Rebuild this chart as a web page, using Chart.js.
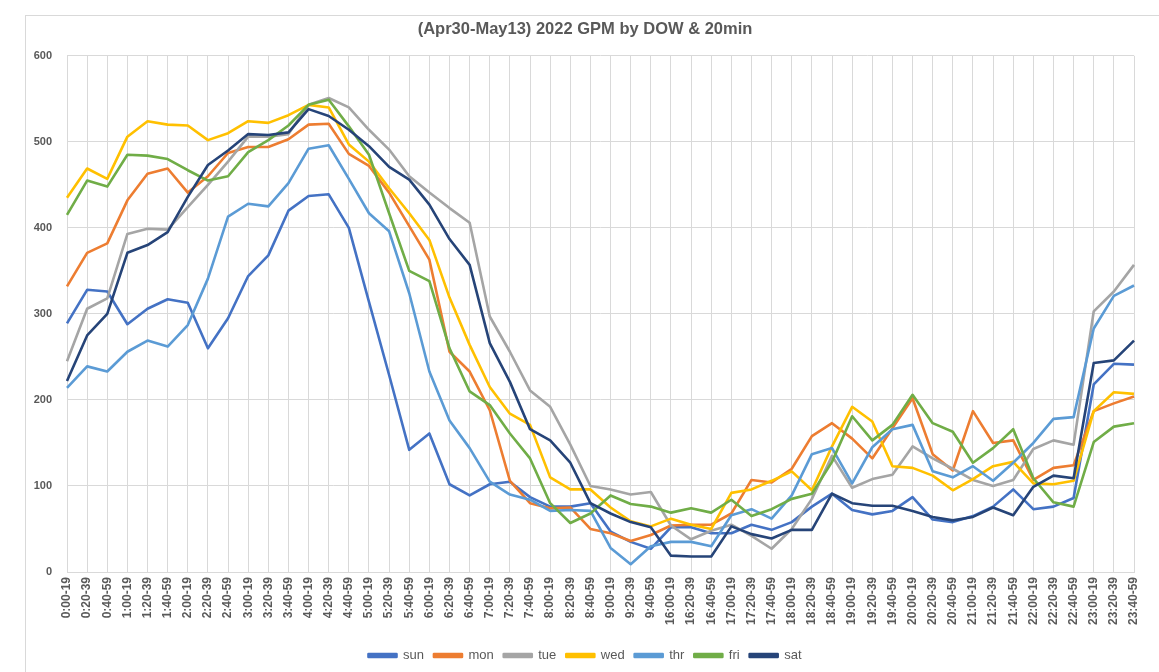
<!DOCTYPE html>
<html>
<head>
<meta charset="utf-8">
<script src="https://cdn.jsdelivr.net/npm/chart.js@4.4.0/dist/chart.umd.min.js"></script>
<style>
  html, body { margin: 0; padding: 0; background: #fff; overflow: hidden; }
  #frame { position: absolute; left: 25px; top: 15px; width: 1200px; height: 700px; border: 1px solid #d9d9d9; }
  #myChart { position: absolute; left: 0; top: 0; }
</style>
</head>
<body>
<div id="frame"></div>
<canvas id="myChart" width="1159" height="672"></canvas>
<script>
// time slots (20 min buckets), hours 0-9 and 16-23
var xValues = [
  "0:00-19", "0:20-39", "0:40-59", "1:00-19", "1:20-39", "1:40-59",
  "2:00-19", "2:20-39", "2:40-59", "3:00-19", "3:20-39", "3:40-59",
  "4:00-19", "4:20-39", "4:40-59", "5:00-19", "5:20-39", "5:40-59",
  "6:00-19", "6:20-39", "6:40-59", "7:00-19", "7:20-39", "7:40-59",
  "8:00-19", "8:20-39", "8:40-59", "9:00-19", "9:20-39", "9:40-59",
  "16:00-19", "16:20-39", "16:40-59", "17:00-19", "17:20-39", "17:40-59",
  "18:00-19", "18:20-39", "18:40-59", "19:00-19", "19:20-39", "19:40-59",
  "20:00-19", "20:20-39", "20:40-59", "21:00-19", "21:20-39", "21:40-59",
  "22:00-19", "22:20-39", "22:40-59", "23:00-19", "23:20-39", "23:40-59"
];

var sun = [289, 328, 326, 288, 306, 317, 313, 260, 295, 344, 368, 420, 437, 439, 400, 314, 229, 142,
  161, 102, 89, 102, 105, 87, 76, 76, 80, 47, 35, 27, 52, 52, 45, 45, 55, 49,
  58, 76, 91, 72, 67, 71, 87, 61, 58, 65, 76, 96, 73, 76, 86, 218, 242, 241];
var mon = [332, 371, 382, 432, 463, 469, 441, 460, 487, 494, 494, 503, 520, 521, 486, 472, 441, 402,
  363, 256, 233, 188, 106, 80, 74, 75, 50, 45, 36, 43, 54, 55, 55, 68, 107, 104,
  120, 158, 173, 155, 132, 167, 202, 137, 118, 187, 150, 153, 107, 121, 124, 187, 196, 204];
var tue = [245, 306, 318, 393, 399, 398, 424, 450, 477, 506, 506, 509, 543, 551, 540, 514, 491, 460,
  441, 423, 406, 297, 256, 211, 192, 148, 100, 96, 90, 93, 54, 38, 48, 55, 42, 27,
  50, 85, 135, 98, 108, 113, 146, 132, 120, 107, 100, 107, 143, 153, 148, 303, 326, 357];
var wed = [435, 469, 457, 506, 524, 520, 519, 502, 510, 524, 522, 531, 543, 540, 497, 477, 446, 417,
  386, 319, 264, 215, 184, 171, 110, 96, 96, 75, 59, 53, 62, 55, 50, 92, 96, 106,
  117, 95, 146, 192, 175, 123, 121, 112, 95, 108, 123, 128, 103, 102, 106, 187, 209, 207];
var thr = [214, 239, 233, 256, 269, 262, 287, 341, 413, 428, 425, 452, 492, 496, 457, 417, 396, 324,
  233, 176, 144, 105, 90, 84, 71, 72, 71, 28, 9, 30, 35, 35, 30, 66, 73, 62,
  89, 137, 144, 103, 145, 166, 171, 117, 110, 123, 106, 127, 150, 178, 180, 283, 321, 333];
var fri = [415, 455, 448, 485, 484, 480, 467, 455, 460, 488, 502, 519, 543, 549, 518, 485, 417, 350,
  338, 260, 210, 194, 161, 132, 80, 57, 68, 89, 79, 76, 69, 74, 69, 84, 65, 73,
  85, 91, 128, 181, 153, 171, 206, 173, 163, 127, 144, 166, 109, 81, 76, 151, 169, 173];
var sat = [222, 275, 300, 371, 380, 395, 436, 473, 490, 509, 508, 511, 538, 530, 514, 495, 471, 456,
  427, 387, 357, 266, 221, 166, 153, 127, 80, 68, 58, 52, 19, 18, 18, 53, 44, 39,
  49, 49, 91, 80, 77, 77, 71, 64, 60, 64, 75, 66, 99, 112, 109, 243, 246, 269];

var seriesNames = ["sun", "mon", "tue", "wed", "thr", "fri", "sat"];
var seriesData = [sun, mon, tue, wed, thr, fri, sat];
var lineColors = ["#4472C4", "#ED7D31", "#A5A5A5", "#FFC000", "#5B9BD5", "#70AD47", "#264478"];

var yTicks = [0, 100, 200, 300, 400, 500, 600];

var textGray = "#595959";
var gridGray = "#d9d9d9";
var font = "'Liberation Sans', Arial, sans-serif";

var datasets = seriesNames.map(function (name, i) {
  return {
    label: name,
    data: seriesData[i],
    borderColor: lineColors[i],
    backgroundColor: lineColors[i],
    borderWidth: 2.6,
    pointRadius: 0,
    tension: 0,
    fill: false,
    borderJoinStyle: "round",
    order: seriesNames.length - i   // later series drawn on top, like excel
  };
});

new Chart("myChart", {
  type: "line",
  data: {
    labels: xValues,
    datasets: datasets
  },
  options: {
    responsive: false,
    animation: false,
    layout: { padding: { left: 11, right: 0, top: 0, bottom: 0 } },
    plugins: {
      title: {
        display: true,
        text: "(Apr30-May13) 2022 GPM by DOW & 20min",
        color: textGray,
        font: { family: font, size: 16.5, weight: "bold" },
        padding: { top: 20, bottom: 16 }
      },
      legend: {
        position: "bottom",
        labels: {
          color: textGray,
          font: { family: font, size: 13 },
          boxWidth: 28,
          boxHeight: 3,
          padding: 10,
          sort: function (a, b) { return a.datasetIndex - b.datasetIndex; }
        }
      },
      tooltip: { enabled: false }
    },
    scales: {
      x: {
        offset: false,
        grid: { color: gridGray, drawTicks: false },
        border: { color: gridGray },
        ticks: {
          autoSkip: false,
          minRotation: 90,
          maxRotation: 90,
          padding: 5,
          color: textGray,
          font: { family: font, size: 12, weight: "bold" }
        },
        afterFit: function (scale) { scale.height = 67; }
      },
      y: {
        min: 0,
        max: 600,
        grid: { color: gridGray, drawTicks: false },
        border: { display: false },
        afterBuildTicks: function (scale) {
          scale.ticks = yTicks.map(function (v) { return { value: v }; });
        },
        ticks: {
          padding: 15,
          color: textGray,
          font: { family: font, size: 11, weight: "bold" }
        },
        afterFit: function (scale) { scale.width = 56; }
      },
      // empty right-hand margin so the title and legend sit where excel puts them
      yRight: {
        type: "linear",
        position: "right",
        display: true,
        grid: { display: false, drawTicks: false },
        border: { display: false },
        ticks: { display: false },
        afterFit: function (scale) { scale.width = 25; }
      }
    }
  }
});
</script>
</body>
</html>
